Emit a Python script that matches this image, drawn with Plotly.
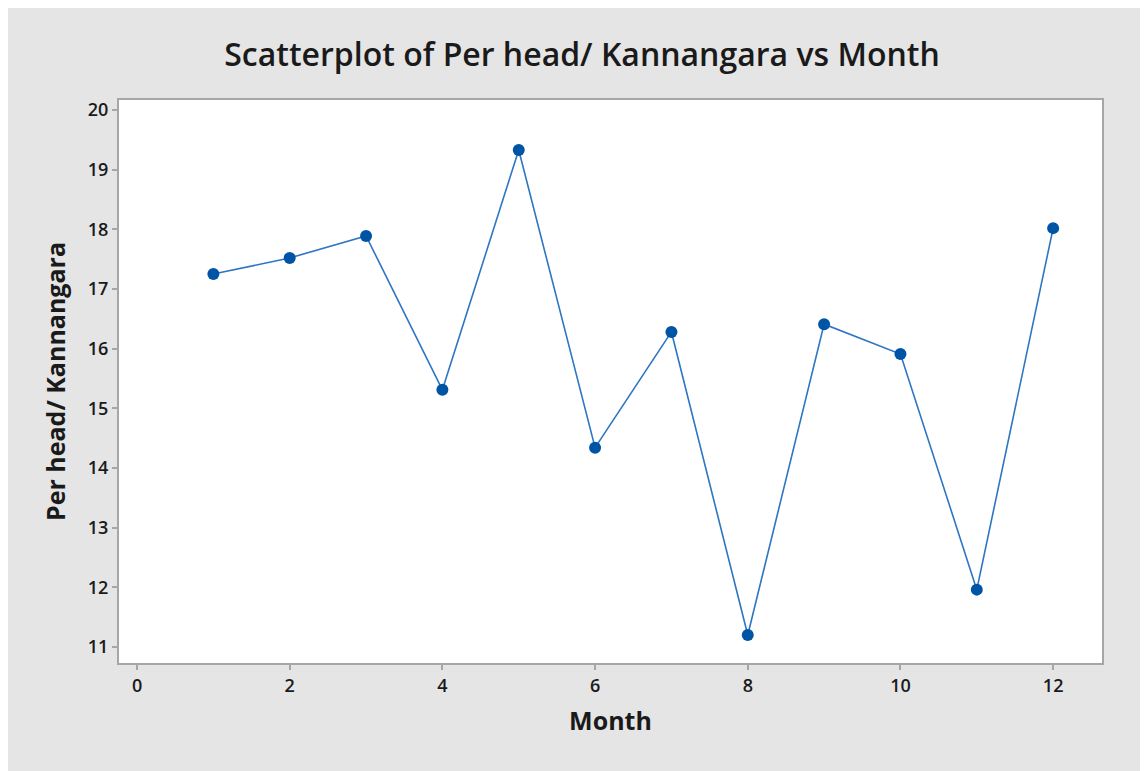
import plotly.graph_objects as go

months = [1, 2, 3, 4, 5, 6, 7, 8, 9, 10, 11, 12]
per_head = [17.25, 17.52, 17.89, 15.31, 19.33, 14.34, 16.28, 11.20, 16.41, 15.91, 11.96, 18.02]
x_ticks = [0, 2, 4, 6, 8, 10, 12]
y_ticks = [11, 12, 13, 14, 15, 16, 17, 18, 19, 20]

font_family = "Open Sans, Noto Sans, sans-serif"

fig = go.Figure()
fig.add_trace(go.Scatter(
    x=months, y=per_head, mode="lines+markers",
    line=dict(color="#2e75c2", width=1.6),
    marker=dict(color="#0054a6", size=12),
    showlegend=False,
))

axis_common = dict(
    showline=True, linecolor="#a6a6a6", linewidth=2, mirror=True,
    ticks="outside", ticklen=5, tickwidth=1.5, tickcolor="#a6a6a6",
    showgrid=False, zeroline=False,
    tickfont=dict(size=18, color="#1a1a1a", family=font_family, weight=600),
)

fig.update_layout(
    width=1148, height=771,
    paper_bgcolor="#e5e5e5", plot_bgcolor="#ffffff",
    margin=dict(l=111, r=54, t=92, b=116),
    title=dict(text="Scatterplot of Per head/ Kannangara vs Month",
               x=0.5, xanchor="center", y=0.939, yanchor="middle",
               font=dict(size=32, color="#1a1a1a", family=font_family, weight=600)),
    xaxis=dict(range=[-0.236, 12.64], tickvals=x_ticks,
               title=dict(text="Month", font=dict(size=25, color="#1a1a1a", family=font_family, weight=700), standoff=17),
               **axis_common),
    yaxis=dict(range=[10.73, 20.168], tickvals=y_ticks,
               title=dict(text="Per head/ Kannangara", font=dict(size=25, color="#1a1a1a", family=font_family, weight=700), standoff=15),
               **axis_common),
)

fig.write_html("out.html")
